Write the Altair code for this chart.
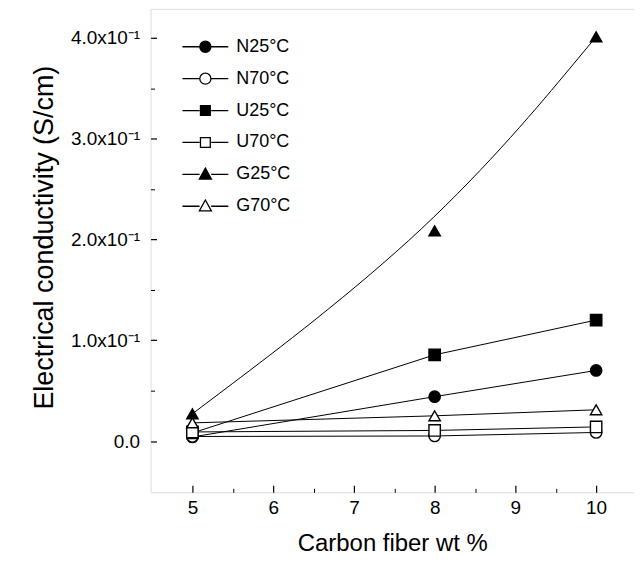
import altair as alt
import pandas as pd

# ---- data ----
x_vals = [5, 8, 10]
series_names = ["N25°C", "N70°C", "U25°C", "U70°C", "G25°C", "G70°C"]
n25 = [0.004, 0.044, 0.070]
n70 = [0.0045, 0.005, 0.0085]
u25 = [0.008, 0.0855, 0.120]
u70 = [0.009, 0.0105, 0.014]
g25 = [0.027, 0.2085, 0.401]
g70 = [0.018, 0.025, 0.031]
curved_series = ["G25°C"]

shape_range = ["circle", "circle", "square", "square", "triangle-up", "triangle-up"]
fill_range = ["black", "white", "black", "white", "black", "white"]

x_major = [5, 6, 7, 8, 9, 10]
x_minor = [5.5, 6.5, 7.5, 8.5, 9.5]
y_major = [0.0, 0.1, 0.2, 0.3, 0.4]
y_minor = [0.05, 0.15, 0.25, 0.35]

rows = []
for i, (name, ys) in enumerate(zip(series_names, [n25, n70, u25, u70, g25, g70])):
    for xv, yv in zip(x_vals, ys):
        rows.append({"x": xv, "y": yv, "series": name, "order": i,
                     "curved": name in curved_series})
df = pd.DataFrame(rows)

FONT = "Liberation Sans"

# legend symbols: line segment + marker (custom SVG paths, unit coords)
seg = "M-1.03,0L-0.26,0M0.26,0L1.03,0"
circ = ("M0.25,0C0.25,0.138,0.138,0.25,0,0.25C-0.138,0.25,-0.25,0.138,-0.25,0"
        "C-0.25,-0.138,-0.138,-0.25,0,-0.25C0.138,-0.25,0.25,-0.138,0.25,0Z")
sq = "M-0.22,-0.22L0.22,-0.22L0.22,0.22L-0.22,0.22Z"
tri = "M0,-0.28L0.27,0.21L-0.27,0.21Z"
legend_paths = [seg + circ, seg + circ, seg + sq, seg + sq, seg + tri, seg + tri]

xscale = alt.Scale(domain=[4.4815, 10.469], nice=False, zero=False)
yscale = alt.Scale(domain=[-0.0509, 0.4287], nice=False, zero=False)

ylabel_expr = ("datum.value == 0 ? '0.0' : format(datum.value * 10, '.1f') + 'x10⁻¹'")

axis_x_labels = alt.Axis(orient="bottom", values=x_major, ticks=False, tickSize=0, domain=False,
                         grid=False, labelFont=FONT, labelFontSize=19, labelColor="black",
                         labelPadding=6, title="Carbon fiber wt %", titleFont=FONT,
                         titleFontSize=24, titleFontWeight="normal", titleColor="black",
                         titlePadding=14)
axis_y_labels = alt.Axis(orient="left", values=y_major, ticks=False, tickSize=0, domain=False,
                         grid=False, labelFont=FONT, labelFontSize=19, labelColor="black",
                         labelPadding=11, labelExpr=ylabel_expr,
                         title="Electrical conductivity (S/cm)", titleFont=FONT,
                         titleFontSize=27, titleFontWeight="normal", titleColor="black",
                         titlePadding=12, titleY=229)
axis_x_major = alt.Axis(orient="bottom", values=x_major, labels=False, domain=False, grid=False,
                        ticks=True, tickSize=7, tickColor="black", tickWidth=1.2, offset=-7,
                        title=None)
axis_y_major = alt.Axis(orient="left", values=y_major, labels=False, domain=False, grid=False,
                        ticks=True, tickSize=6, tickColor="black", tickWidth=1.2, offset=-6,
                        title=None)
axis_x_minor = alt.Axis(orient="bottom", values=x_minor, labels=False, domain=False, grid=False,
                        ticks=True, tickSize=4, tickColor="black", tickWidth=1, offset=-4,
                        title=None)
axis_y_minor = alt.Axis(orient="left", values=y_minor, labels=False, domain=False, grid=False,
                        ticks=True, tickSize=4, tickColor="black", tickWidth=1, offset=-4,
                        title=None)

base = alt.Chart(df)

lines = base.transform_filter("!datum.curved").mark_line(
    interpolate="linear", color="black", strokeWidth=1).encode(
    x=alt.X("x:Q", scale=xscale, axis=axis_x_labels),
    y=alt.Y("y:Q", scale=yscale, axis=axis_y_labels),
    detail="series:N",
)

curve = base.transform_filter("datum.curved").mark_line(
    interpolate="basis", color="black", strokeWidth=1).encode(
    x=alt.X("x:Q", scale=xscale, axis=None),
    y=alt.Y("y:Q", scale=yscale, axis=None),
    detail="series:N",
)

points = base.mark_point(filled=True, stroke="black", strokeWidth=1.4, size=130, opacity=1).encode(
    x=alt.X("x:Q", scale=xscale, axis=axis_x_major),
    y=alt.Y("y:Q", scale=yscale, axis=axis_y_major),
    shape=alt.Shape("series:N", scale=alt.Scale(domain=series_names, range=shape_range), legend=None),
    fill=alt.Fill("series:N", scale=alt.Scale(domain=series_names, range=fill_range), legend=None),
    order=alt.Order("order:Q"),
)

legend_layer = base.transform_filter("datum.x > 1000").mark_point(
    filled=True, strokeWidth=1.3, size=1997, opacity=1
).encode(
    x=alt.X("x:Q", scale=xscale, axis=axis_x_minor),
    y=alt.Y("y:Q", scale=yscale, axis=axis_y_minor),
    shape=alt.Shape("series:N", scale=alt.Scale(domain=series_names, range=legend_paths),
                    legend=alt.Legend(orient="none", legendX=32, legendY=15, title=None,
                                      padding=0, symbolSize=1997,
                                      symbolStrokeWidth=1.3, labelFont=FONT, labelFontSize=18,
                                      labelColor="black", labelOffset=8, rowPadding=0,
                                      symbolOpacity=1)),
    fill=alt.Fill("series:N", scale=alt.Scale(domain=series_names, range=fill_range)),
    stroke=alt.Stroke("series:N", scale=alt.Scale(domain=series_names, range=["black"] * 6)),
)

chart = alt.layer(lines, curve, points, legend_layer).resolve_scale(
    shape="independent", fill="independent", stroke="independent"
).resolve_axis(
    x="independent", y="independent"
).properties(
    width=485, height=485,
    autosize=alt.AutoSizeParams(type="none"),
    padding={"left": 143, "top": 0, "right": 0, "bottom": 65},
).configure_view(stroke="black", strokeWidth=1.5).configure(background="white")

chart.save("out.html", embed_options={"renderer": "svg", "actions": False})
